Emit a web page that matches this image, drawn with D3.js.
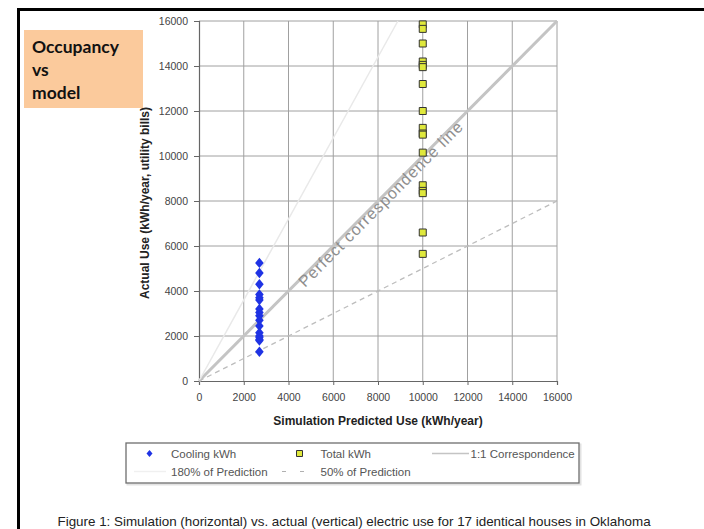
<!DOCTYPE html>
<html>
<head>
<meta charset="utf-8">
<script src="https://cdn.jsdelivr.net/npm/d3@7/dist/d3.min.js"></script>
<style>
  html, body { margin: 0; padding: 0; background: #fff; }
  svg { display: block; }
</style>
</head>
<body>
<svg id="chart" width="704" height="529"></svg>
<script>
// Measured annual electric use for 17 identical houses, kWh/year
const coolingPredicted = 2700;
const coolingActual = [5250, 4800, 4300, 3850, 3700, 3600, 3200, 3050, 2900, 2700, 2450, 2150, 2000, 1950, 1850, 1800, 1300];
const totalPredicted = 10000;
const totalActual = [15850, 15650, 15000, 14200, 14050, 13950, 13200, 12000, 11250, 11000, 10950, 10150, 8700, 8450, 8350, 6600, 5650];

// Reference lines: actual = factor × predicted
const refLines = [
  { name: "1:1 Correspondence", factor: 1.0 },
  { name: "180% of Prediction", factor: 1.8 },
  { name: "50% of Prediction", factor: 0.5 }
];

const axisTicks = [0, 2000, 4000, 6000, 8000, 10000, 12000, 14000, 16000];
const domainMax = 16000;

const legendItems = [
  { label: "Cooling kWh", kind: "diamond" },
  { label: "Total kWh", kind: "square" },
  { label: "1:1 Correspondence", kind: "line1" },
  { label: "180% of Prediction", kind: "line180" },
  { label: "50% of Prediction", kind: "line50" }
];

const titleLines = ["Occupancy", "vs", "model"];
const caption = "Figure 1: Simulation (horizontal) vs. actual (vertical) electric use for 17 identical houses in Oklahoma";

const svg = d3.select("#chart");
const font = "Arial, 'Liberation Sans', sans-serif";

svg.append("rect").attr("width", 704).attr("height", 529).attr("fill", "#fff");

// Slide frame
svg.append("path")
  .attr("d", "M704,9.5 H18.5 V529")
  .attr("fill", "none").attr("stroke", "#000").attr("stroke-width", 3);

const x = d3.scaleLinear().domain([0, domainMax]).range([199, 557]);
const y = d3.scaleLinear().domain([0, domainMax]).range([381, 21]);

// Grid
const grid = svg.append("g");
grid.selectAll("line.v").data(axisTicks.slice(1)).join("line")
  .attr("x1", d => x(d)).attr("x2", d => x(d))
  .attr("y1", y(0)).attr("y2", y(domainMax))
  .attr("stroke", "#a0a0a0").attr("stroke-width", 1);
grid.selectAll("line.h").data(axisTicks.slice(1)).join("line")
  .attr("y1", d => y(d)).attr("y2", d => y(d))
  .attr("x1", x(0)).attr("x2", x(domainMax))
  .attr("stroke", "#a0a0a0").attr("stroke-width", 1);

// Axes
const xAxis = svg.append("g").attr("transform", `translate(0,${y(0)})`)
  .call(d3.axisBottom(x).tickValues(axisTicks).tickFormat(d3.format("d")).tickSize(4).tickPadding(9));
const yAxis = svg.append("g").attr("transform", `translate(${x(0)},0)`)
  .call(d3.axisLeft(y).tickValues(axisTicks).tickFormat(d3.format("d")).tickSize(5).tickPadding(6));
[xAxis, yAxis].forEach(g => {
  g.select(".domain").attr("stroke", "#666").attr("stroke-width", 1.2);
  g.selectAll(".tick line").attr("stroke", "#666");
  g.selectAll("text").attr("font-family", font).attr("font-size", 10.5).attr("fill", "#444");
});

// Reference lines
const lineGen = d3.line().x(d => x(d[0])).y(d => y(d[1]));
const refStyles = {
  1.0: { stroke: "#c4c4c4", width: 3, dash: null },
  1.8: { stroke: "#e9e9e9", width: 1.5, dash: null },
  0.5: { stroke: "#bdbdbd", width: 1.3, dash: "5,4" }
};
refLines.forEach(r => {
  const xEnd = Math.min(domainMax, domainMax / r.factor);
  const s = refStyles[r.factor];
  svg.append("path")
    .attr("d", lineGen([[0, 0], [xEnd, xEnd * r.factor]]))
    .attr("fill", "none").attr("stroke", s.stroke)
    .attr("stroke-width", s.width)
    .attr("stroke-dasharray", s.dash);
});

// Label along the 1:1 line
const lx = x(8000), ly = y(8000);
const ang = Math.atan2(y(domainMax) - y(0), x(domainMax) - x(0)) * 180 / Math.PI;
svg.append("text")
  .attr("transform", `translate(${lx},${ly}) rotate(${ang})`)
  .attr("text-anchor", "middle").attr("dy", "0.6em")
  .attr("font-family", font).attr("font-size", 16).attr("letter-spacing", 1)
  .attr("fill", "#8e8e8e")
  .text("Perfect correspondence line");

// Marker shapes
const diamondType = {
  draw(ctx, size) {
    const w = Math.sqrt(size) * 0.5, h = Math.sqrt(size) * 0.6;
    ctx.moveTo(0, -h); ctx.lineTo(w, 0); ctx.lineTo(0, h); ctx.lineTo(-w, 0); ctx.closePath();
  }
};
const diamond = d3.symbol().type(diamondType).size(74);
const square = d3.symbol().type(d3.symbolSquare).size(49);

svg.append("g").selectAll("path").data(totalActual).join("path")
  .attr("d", square)
  .attr("transform", d => `translate(${x(totalPredicted)},${y(d)})`)
  .attr("fill", "#dfe83c").attr("stroke", "#333").attr("stroke-width", 1);

svg.append("g").selectAll("path").data(coolingActual).join("path")
  .attr("d", diamond)
  .attr("transform", d => `translate(${x(coolingPredicted)},${y(d)})`)
  .attr("fill", "#1f33e4");

// Axis titles
svg.append("text")
  .attr("x", 378).attr("y", 424.5)
  .attr("text-anchor", "middle")
  .attr("font-family", font).attr("font-size", 12).attr("font-weight", "bold").attr("fill", "#222")
  .text("Simulation Predicted Use (kWh/year)");
svg.append("text")
  .attr("transform", "translate(148.5,203) rotate(-90)")
  .attr("text-anchor", "middle")
  .attr("font-family", font).attr("font-size", 12).attr("font-weight", "bold").attr("fill", "#222")
  .text("Actual Use (kWh/year, utility bills)");

// Legend
const lg = svg.append("g");
lg.append("rect").attr("x", 127.5).attr("y", 444.5).attr("width", 453).attr("height", 40)
  .attr("fill", "none").attr("stroke", "#e2e2e2").attr("stroke-width", 2);
lg.append("rect").attr("x", 126).attr("y", 443).attr("width", 453).attr("height", 40)
  .attr("fill", "#fff").attr("stroke", "#6e6e6e").attr("stroke-width", 1.3);

const legendPos = [
  { sx: 149.5, tx: 171, cy: 453.5 },
  { sx: 299.5, tx: 320.5, cy: 453.5 },
  { sx: 450, tx: 470.5, cy: 453.5 },
  { sx: 150, tx: 171, cy: 471.5 },
  { sx: 296, tx: 320.5, cy: 471.5 }
];
legendItems.forEach((it, i) => {
  const p = legendPos[i];
  if (it.kind === "diamond") {
    lg.append("path").attr("d", d3.symbol().type(diamondType).size(36))
      .attr("transform", `translate(${p.sx},${p.cy})`).attr("fill", "#1f33e4");
  } else if (it.kind === "square") {
    lg.append("path").attr("d", d3.symbol().type(d3.symbolSquare).size(36))
      .attr("transform", `translate(${p.sx},${p.cy})`)
      .attr("fill", "#dfe83c").attr("stroke", "#333").attr("stroke-width", 1);
  } else if (it.kind === "line1") {
    lg.append("line").attr("x1", 432).attr("x2", 469).attr("y1", p.cy).attr("y2", p.cy)
      .attr("stroke", "#c4c4c4").attr("stroke-width", 1.5);
  } else if (it.kind === "line180") {
    lg.append("line").attr("x1", 134).attr("x2", 166).attr("y1", p.cy).attr("y2", p.cy)
      .attr("stroke", "#f0f0f0").attr("stroke-width", 1.5);
  } else {
    lg.append("line").attr("x1", 282).attr("x2", 311).attr("y1", p.cy).attr("y2", p.cy)
      .attr("stroke", "#b0b0b0").attr("stroke-width", 1).attr("stroke-dasharray", "4,14");
  }
  lg.append("text").attr("x", p.tx).attr("y", p.cy).attr("dy", "0.35em")
    .attr("font-family", font).attr("font-size", 11.5).attr("fill", "#555")
    .text(it.label);
});

// Title box
svg.append("rect").attr("x", 24).attr("y", 30).attr("width", 119).attr("height", 78)
  .attr("fill", "#fbca9c");
svg.append("g").selectAll("text").data(titleLines).join("text")
  .attr("x", 32).attr("y", (d, i) => 53 + i * 23)
  .attr("font-family", "Lato, 'Open Sans', sans-serif").attr("font-weight", "bold")
  .attr("font-size", 17.5).attr("fill", "#111")
  .text(d => d);

// Caption
svg.append("text")
  .attr("x", 57.5).attr("y", 525.5)
  .attr("font-family", font).attr("font-size", 13.4).attr("fill", "#222")
  .text(caption);
</script>
</body>
</html>
